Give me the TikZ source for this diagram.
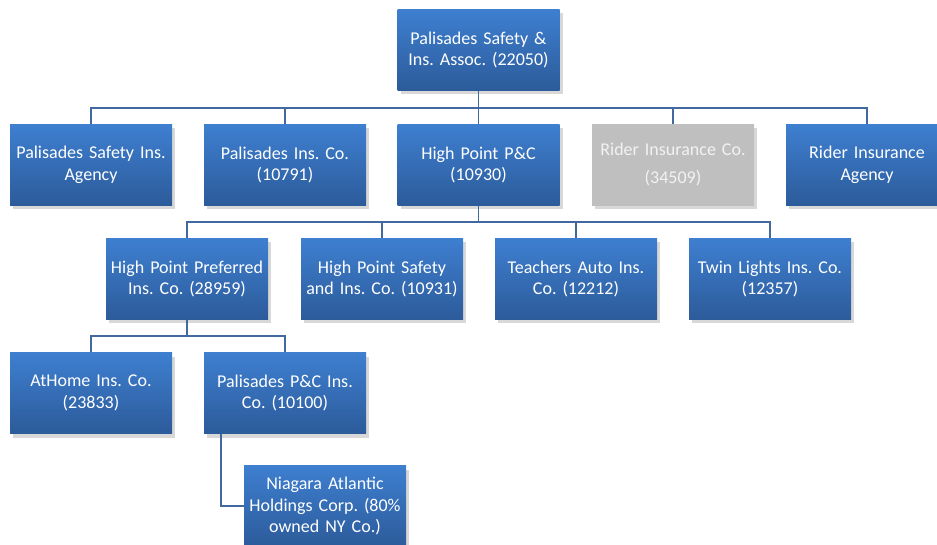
\documentclass[tikz,border=0pt]{standalone}
\usepackage{fontspec}
\setmainfont{Carlito}
\frenchspacing
\usetikzlibrary{positioning}
\definecolor{boxtop}{RGB}{62,127,208}
\definecolor{boxbot}{RGB}{44,91,154}
\definecolor{linec}{RGB}{65,105,160}
\definecolor{greybox}{RGB}{191,191,191}
\begin{document}
\begin{tikzpicture}[x=1pt,y=-1pt,
  orgbox/.style={rectangle, minimum width=161pt, minimum height=81pt, inner sep=2pt,
    top color=boxtop, bottom color=boxbot, draw=none, text=white, align=center,
    font=\fontsize{18}{21.5}\selectfont, text width=158pt,
    preaction={fill=black!30, opacity=0.5, transform canvas={xshift=3pt,yshift=-4pt}}},
  greyorg/.style={orgbox, top color=greybox, bottom color=greybox, text=white!95!black,
    font=\fontsize{18}{28}\selectfont},
  conn/.style={draw=linec, line width=1.6pt}]
\useasboundingbox (0,0) rectangle (937,545);
\clip (0,0) rectangle (937,545);
% nodes
\node[orgbox] (top) at (478.5,50) {Palisades Safety \&\\Ins. Assoc. (22050)};
\node[orgbox] (psia) at (91,165) {Palisades Safety Ins.\\Agency};
\node[orgbox] (pic) at (285,165) {Palisades Ins. Co.\\(10791)};
\node[orgbox] (hp) at (478.5,165) {High Point P\&C\\(10930)};
\node[greyorg] (ric) at (673,165) {Rider Insurance Co.\\(34509)};
\node[orgbox] (ria) at (867,165) {Rider Insurance\\Agency};
\node[orgbox] (hpp) at (187,279) {High Point Preferred\\Ins. Co. (28959)};
\node[orgbox] (hps) at (382,279) {High Point Safety\\and Ins. Co. (10931)};
\node[orgbox] (ta) at (576,279) {Teachers Auto Ins.\\Co. (12212)};
\node[orgbox] (tl) at (770,279) {Twin Lights Ins. Co.\\(12357)};
\node[orgbox] (ah) at (91,393) {AtHome Ins. Co.\\(23833)};
\node[orgbox] (ppc) at (285,393) {Palisades P\&C Ins.\\Co. (10100)};
\node[orgbox] (na) at (325,506) {Niagara Atlantic\\Holdings Corp. (80\%\\owned NY Co.)};
% connectors
\coordinate (j1) at (478.5,108);
\coordinate (j2) at (478.5,222);
\coordinate (j3) at (187,336);
\draw[conn] (top.south) -- (j1);
\foreach \n in {psia,pic,hp,ric,ria} \draw[conn] (j1) -| (\n.north);
\draw[conn] (hp.south) -- (j2);
\foreach \n in {hpp,hps,ta,tl} \draw[conn] (j2) -| (\n.north);
\draw[conn] (hpp.south) -- (j3);
\foreach \n in {ah,ppc} \draw[conn] (j3) -| (\n.north);
\draw[conn] (ppc.south -| 221,0) |- (na.west);
\end{tikzpicture}
\end{document}
